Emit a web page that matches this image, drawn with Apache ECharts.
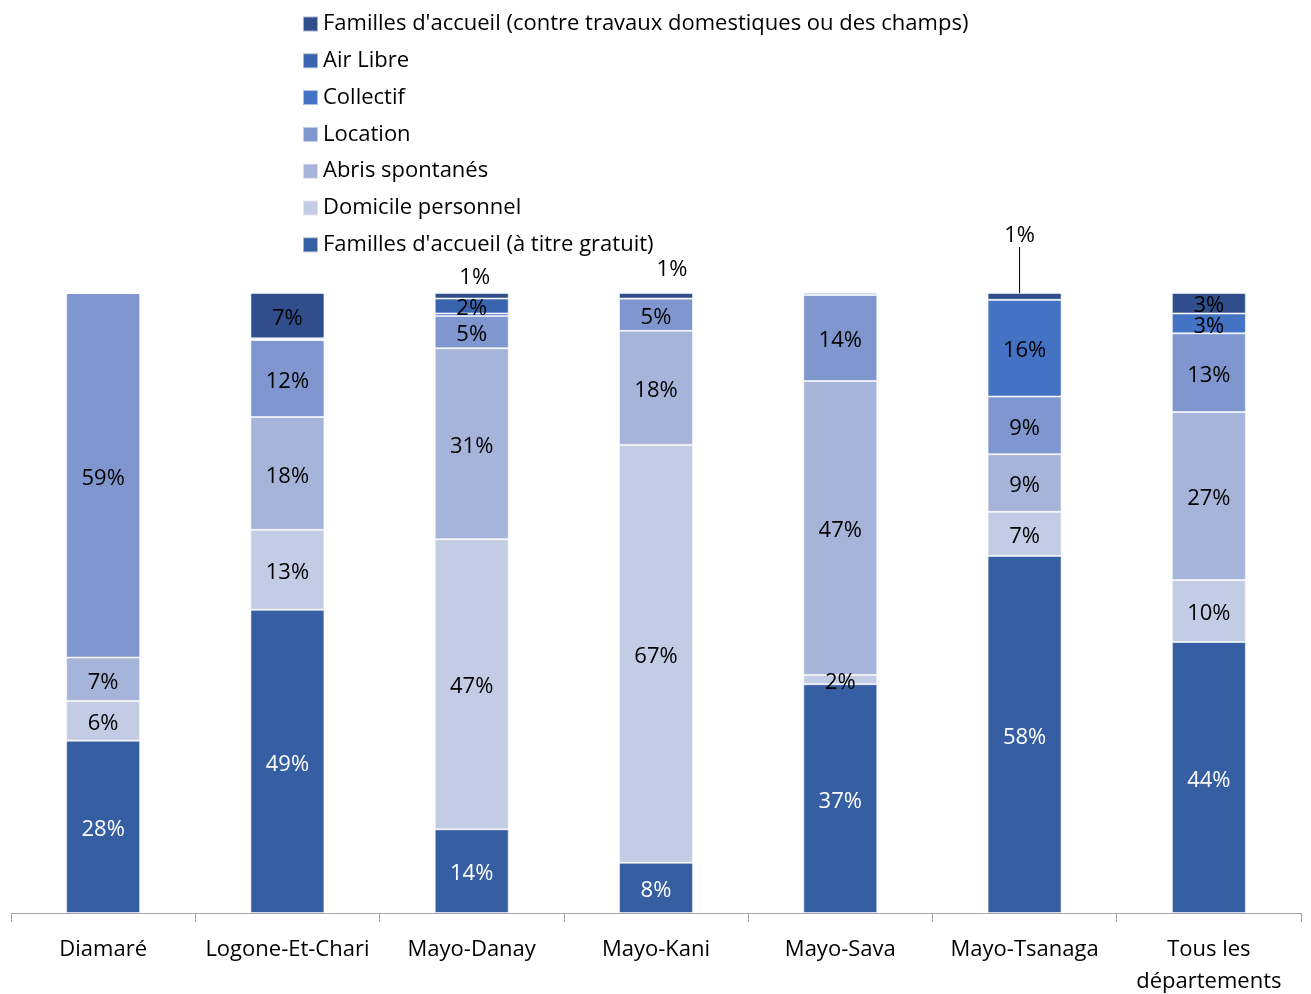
<!DOCTYPE html>
<html>
<head>
<meta charset="utf-8">
<script src="https://cdn.jsdelivr.net/npm/echarts@6/dist/echarts.min.js"></script>
<style>
  html, body { margin: 0; padding: 0; background: #fff; }
  #chart { width: 1311px; height: 994px; }
</style>
</head>
<body>
<div id="chart"></div>
<script>
  // départements
  const categories = ['Diamaré', 'Logone-Et-Chari', 'Mayo-Danay', 'Mayo-Kani', 'Mayo-Sava', 'Mayo-Tsanaga', 'Tous les\ndépartements']

  // parts en %, du bas vers le haut de la pile
  const gratuit   = [27.8, 48.9, 13.5, 8.1, 36.9, 57.6, 43.7]
  const domicile  = [6.4, 12.9, 46.8, 67.4, 1.5, 7.1, 10.0]
  const abris     = [7.0, 18.2, 30.8, 18.4, 47.4, 9.3, 27.1]
  const locations = [58.8, 12.4, 5.2, 5.2, 13.9, 9.3, 12.7]
  const collectif = [0, 0.1, 0.4, 0, 0, 15.6, 3.2]
  const airLibre  = [0, 0.2, 2.4, 0, 0, 0, 0]
  const travaux   = [0, 7.3, 0.9, 0.9, 0.3, 1.1, 3.3]

  const font = '"Open Sans", "Noto Sans", sans-serif'

  function pct(p) {
    return p.value < 0.5 ? '' : Math.round(p.value) + '%'
  }

  function serie(name, data, color, txt) {
    return {
      name: name,
      type: 'bar',
      stack: 'total',
      barWidth: 74,
      data: data,
      itemStyle: { color: color, borderColor: 'rgba(255,255,255,0.55)', borderWidth: 1 },
      label: {
        show: true,
        position: 'inside',
        offset: [0, 3],
        color: txt,
        fontFamily: font,
        fontSize: 22,
        formatter: pct
      }
    }
  }

  const series = [
    serie('Familles d\'accueil (à titre gratuit)', gratuit, '#365EA3', '#fff'),
    serie('Domicile personnel', domicile, '#C3CCE5', '#000'),
    serie('Abris spontanés', abris, '#A7B4DA', '#000'),
    serie('Location', locations, '#7F96CE', '#000'),
    serie('Collectif', collectif, '#4472C4', '#000'),
    serie('Air Libre', airLibre, '#3A64AE', '#000'),
    serie('Familles d\'accueil (contre travaux domestiques ou des champs)', travaux, '#2F4E8B', '#000')
  ]

  // petites parts du haut : étiquettes au-dessus de la barre
  const haut = series[6]
  haut.data = travaux.map(function (v, i) {
    if (i === 2 || i === 3 || i === 5) {
      return {
        value: v,
        label: { position: 'top', distance: 5, offset: [0, 0] },
        labelLine: { show: i === 5 }
      }
    }
    return v
  })
  haut.labelLine = { show: false, lineStyle: { color: '#000', width: 1 } }
  haut.labelLayout = function (params) {
    if (params.dataIndex === 2) return { dx: 3, dy: 1 }
    if (params.dataIndex === 3) return { dx: 16, dy: -7 }
    if (params.dataIndex === 5) return { dx: -5, dy: -41 }
    return { dy: 3 }
  }

  const chart = echarts.init(document.getElementById('chart'))
  chart.setOption({
    animation: false,
    legend: {
      orient: 'vertical',
      left: 297,
      top: 8,
      itemWidth: 15,
      itemHeight: 15,
      itemGap: 14.8,
      icon: 'rect',
      data: series.map(function (s) { return s.name }).reverse(),
      textStyle: { fontFamily: font, fontSize: 22, lineHeight: 22, color: '#000' }
    },
    grid: { left: 11, right: 10, top: 293, bottom: 81, outerBoundsMode: 'none' },
    xAxis: {
      type: 'category',
      data: categories,
      axisLine: { lineStyle: { color: '#A6A6A6' } },
      axisTick: { show: true, length: 9, lineStyle: { color: '#A6A6A6' } },
      axisLabel: { interval: 0, fontFamily: font, fontSize: 22, color: '#000', margin: 21, lineHeight: 32 }
    },
    yAxis: {
      type: 'value',
      min: 0,
      max: 100,
      show: false
    },
    series: series
  })
</script>
</body>
</html>
